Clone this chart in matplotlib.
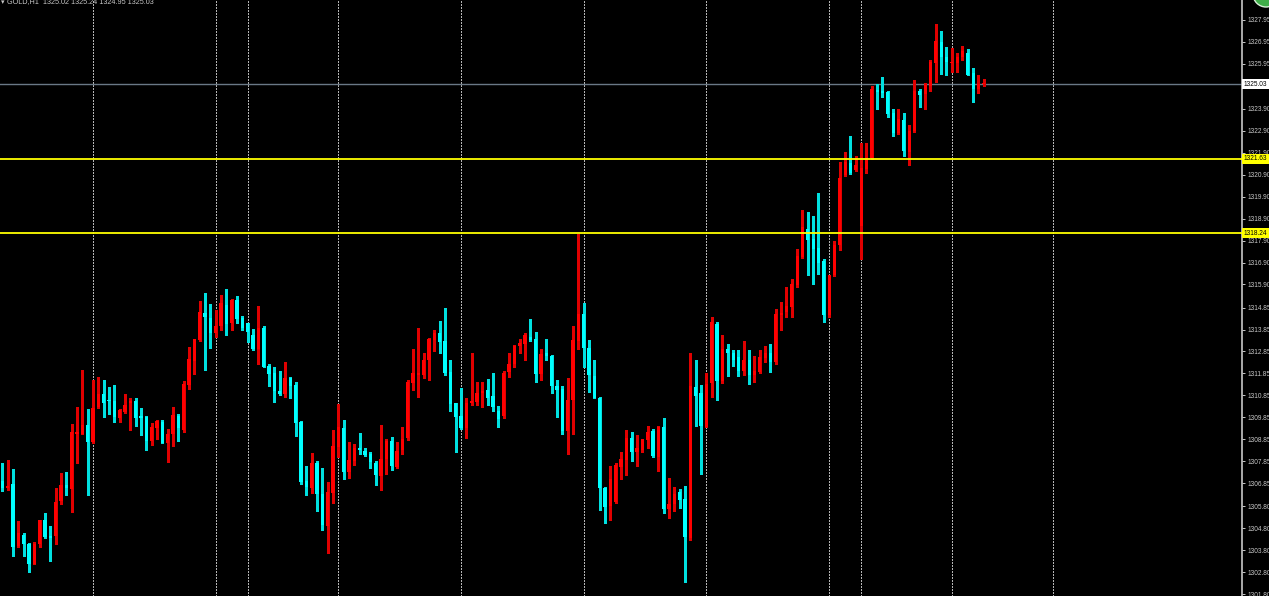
# recreate the MT4 style GOLD H1 candlestick screenshot

import matplotlib
matplotlib.use("Agg")
import matplotlib.pyplot as plt
import matplotlib.transforms as mtransforms
from matplotlib.patches import Ellipse
import numpy as np

WIDTH_PX = 1269
HEIGHT_PX = 596
DPI = 100
AXIS_RIGHT_PX = 1242

BULL_COLOUR = '#ff0000'
BEAR_COLOUR = '#00ffff'
BULL_WICK = '#e00000'
BEAR_WICK = '#00e0e0'
TEXT_COLOUR = '#c8c8c8'
GRID_COLOUR = '#b4b4b4'
LABEL_SIZE = 4.7

SYMBOL = "GOLD,H1"

# hourly bars, oldest first
opens = [1306.93, 1306.62, 1306.80, 1303.98, 1304.49, 1304.10, 1303.19, 1304.07, 1305.16, 1304.46,
         1304.43, 1306.04, 1306.77, 1306.59, 1309.11, 1309.11, 1309.51, 1308.72, 1310.33, 1310.91,
         1310.62, 1310.60, 1309.84, 1310.08, 1310.48, 1310.60, 1309.86, 1309.87, 1308.78, 1309.36,
         1309.63, 1308.69, 1309.11, 1309.90, 1309.29, 1311.33, 1312.42, 1313.37, 1314.61, 1314.37,
         1313.70, 1314.03, 1314.98, 1314.13, 1315.19, 1314.37, 1314.13, 1313.58, 1312.94, 1313.94,
         1312.18, 1311.85, 1311.03, 1310.91, 1311.66, 1311.30, 1309.63, 1306.96, 1306.65, 1307.75,
         1306.35, 1304.92, 1306.41, 1308.50, 1309.36, 1307.35, 1307.87, 1308.44, 1308.32, 1308.17,
         1307.78, 1307.17, 1307.93, 1308.78, 1307.59, 1308.38, 1308.90, 1311.42, 1311.79, 1311.76,
         1312.45, 1313.37, 1313.67, 1313.34, 1311.91, 1310.48, 1309.93, 1309.36, 1310.51, 1310.57,
         1310.97, 1311.09, 1310.81, 1310.15, 1309.93, 1311.91, 1312.30, 1313.12, 1313.21, 1313.52,
         1313.43, 1311.82, 1312.76, 1312.64, 1311.27, 1311.15, 1309.23, 1310.63, 1313.34, 1314.55,
         1313.03, 1311.73, 1310.75, 1306.65, 1305.80, 1305.98, 1307.59, 1307.90, 1308.90, 1308.29,
         1308.38, 1308.81, 1309.23, 1308.05, 1309.42, 1305.68, 1305.92, 1306.44, 1306.13, 1304.37,
         1311.21, 1310.94, 1309.42, 1311.42, 1314.09, 1311.51, 1312.97, 1312.76, 1312.61, 1311.97,
         1312.45, 1311.79, 1311.91, 1312.55, 1312.79, 1312.36, 1314.49, 1314.64, 1314.89, 1315.86,
         1317.13, 1318.41, 1317.95, 1317.56, 1316.95, 1314.52, 1316.31, 1317.68, 1320.87, 1321.45,
         1321.11, 1318.56, 1321.17, 1321.66, 1324.76, 1324.73, 1324.67, 1323.70, 1322.78, 1323.39,
         1321.93, 1322.88, 1324.73, 1324.58, 1324.94, 1326.00, 1326.95, 1326.28, 1325.97, 1326.00,
         1326.28, 1326.43, 1325.52, 1324.82, 1325.02]
highs = [1307.78, 1307.90, 1307.50, 1305.13, 1304.56, 1304.12, 1304.16, 1305.18, 1305.47, 1304.92,
         1306.65, 1307.32, 1307.38, 1309.54, 1310.33, 1312.00, 1310.21, 1311.54, 1311.69, 1311.54,
         1311.21, 1311.30, 1310.21, 1310.91, 1310.72, 1310.72, 1310.27, 1309.90, 1309.60, 1309.72,
         1309.72, 1309.33, 1310.30, 1310.02, 1311.51, 1313.06, 1313.43, 1315.16, 1315.52, 1315.01,
         1314.73, 1315.40, 1315.71, 1315.25, 1315.37, 1314.46, 1314.16, 1313.88, 1314.92, 1314.00,
         1312.30, 1312.12, 1311.94, 1312.36, 1311.69, 1311.45, 1309.66, 1307.65, 1308.23, 1307.84,
         1307.56, 1306.89, 1309.26, 1310.45, 1309.72, 1308.72, 1308.63, 1309.14, 1308.47, 1308.29,
         1307.84, 1309.51, 1308.87, 1308.96, 1308.72, 1309.42, 1311.54, 1312.97, 1313.94, 1312.79,
         1313.46, 1313.82, 1314.22, 1314.82, 1312.48, 1310.51, 1311.18, 1310.72, 1312.79, 1311.45,
         1311.45, 1311.60, 1311.88, 1310.36, 1311.94, 1312.76, 1313.15, 1313.43, 1313.67, 1314.31,
         1313.73, 1312.97, 1313.40, 1312.67, 1311.54, 1311.27, 1311.63, 1314.03, 1318.20, 1315.04,
         1313.37, 1312.48, 1310.78, 1306.68, 1307.62, 1307.78, 1308.26, 1309.29, 1309.20, 1309.05,
         1308.87, 1309.45, 1309.33, 1309.45, 1309.84, 1307.08, 1306.68, 1306.59, 1306.71, 1312.79,
         1312.45, 1311.33, 1311.88, 1314.43, 1314.19, 1313.61, 1313.18, 1312.91, 1312.91, 1313.34,
         1312.91, 1312.64, 1312.91, 1313.09, 1313.18, 1314.79, 1315.10, 1315.77, 1316.13, 1317.53,
         1319.29, 1319.20, 1319.02, 1320.05, 1317.07, 1316.34, 1317.86, 1321.48, 1321.93, 1322.66,
         1321.75, 1322.33, 1322.36, 1324.94, 1325.03, 1325.37, 1324.73, 1323.88, 1323.91, 1323.70,
         1323.18, 1325.21, 1324.82, 1325.09, 1326.13, 1327.77, 1327.46, 1326.70, 1326.67, 1326.46,
         1326.76, 1326.61, 1325.76, 1325.43, 1325.24]
lows = [1306.50, 1306.53, 1303.52, 1303.95, 1303.55, 1302.79, 1303.16, 1303.95, 1304.37, 1303.31,
        1304.07, 1305.89, 1306.29, 1305.53, 1307.78, 1309.08, 1306.32, 1308.70, 1310.27, 1309.87,
        1310.02, 1309.63, 1309.63, 1310.05, 1309.26, 1309.45, 1309.05, 1308.35, 1308.57, 1308.87,
        1308.66, 1307.81, 1308.54, 1308.75, 1309.17, 1311.12, 1311.82, 1313.34, 1312.00, 1313.03,
        1313.52, 1313.82, 1313.61, 1313.82, 1314.16, 1313.85, 1313.27, 1312.91, 1312.30, 1312.12,
        1311.27, 1310.57, 1310.88, 1310.78, 1310.75, 1309.02, 1306.80, 1306.29, 1306.38, 1305.56,
        1304.71, 1303.67, 1305.95, 1308.05, 1307.05, 1307.08, 1307.68, 1308.20, 1308.08, 1307.56,
        1306.77, 1306.53, 1307.29, 1307.47, 1307.56, 1308.20, 1308.81, 1311.09, 1310.78, 1311.66,
        1311.57, 1312.88, 1312.79, 1311.76, 1310.12, 1308.29, 1309.33, 1308.93, 1310.42, 1310.42,
        1310.30, 1310.42, 1310.15, 1309.42, 1309.81, 1311.69, 1312.15, 1312.76, 1312.45, 1313.34,
        1311.45, 1311.57, 1312.45, 1310.97, 1309.87, 1309.08, 1308.17, 1309.11, 1312.97, 1312.15,
        1311.00, 1310.72, 1305.62, 1305.04, 1305.16, 1305.95, 1307.02, 1307.20, 1307.87, 1307.62,
        1308.29, 1308.47, 1308.02, 1307.41, 1305.47, 1305.28, 1305.59, 1305.74, 1302.34, 1304.28,
        1309.45, 1307.29, 1309.39, 1310.78, 1310.63, 1311.42, 1311.73, 1312.21, 1311.73, 1311.79,
        1311.39, 1311.48, 1311.85, 1312.39, 1311.91, 1312.27, 1313.82, 1314.40, 1314.40, 1315.77,
        1317.10, 1316.34, 1315.92, 1316.37, 1314.19, 1314.43, 1316.28, 1317.47, 1320.84, 1320.93,
        1321.08, 1317.07, 1320.96, 1321.63, 1323.91, 1324.45, 1323.51, 1322.66, 1322.75, 1321.75,
        1321.36, 1322.85, 1323.97, 1323.88, 1324.70, 1325.12, 1325.49, 1325.46, 1325.58, 1325.58,
        1326.13, 1325.43, 1324.21, 1324.61, 1324.95]
closes = [1306.65, 1306.74, 1303.95, 1304.56, 1304.07, 1303.19, 1304.10, 1305.16, 1304.40, 1304.37,
          1306.01, 1306.77, 1306.62, 1309.20, 1309.17, 1309.51, 1308.72, 1310.27, 1310.91, 1310.51,
          1310.58, 1309.87, 1310.18, 1310.42, 1310.60, 1309.84, 1309.84, 1308.75, 1309.39, 1309.69,
          1308.69, 1309.08, 1309.96, 1309.36, 1311.36, 1312.52, 1313.40, 1314.64, 1314.43, 1313.70,
          1314.03, 1315.04, 1314.09, 1315.19, 1314.31, 1313.91, 1313.73, 1312.94, 1313.94, 1312.15,
          1311.82, 1311.03, 1310.91, 1311.63, 1311.27, 1309.57, 1306.89, 1306.68, 1307.75, 1306.35,
          1304.95, 1306.44, 1308.54, 1309.42, 1307.38, 1307.90, 1308.44, 1308.35, 1308.14, 1307.81,
          1307.20, 1307.96, 1308.78, 1307.62, 1308.32, 1308.84, 1311.48, 1311.85, 1311.88, 1312.48,
          1313.40, 1313.70, 1313.30, 1311.88, 1310.45, 1309.87, 1309.36, 1310.51, 1310.60, 1310.97,
          1311.06, 1310.75, 1310.33, 1309.78, 1311.85, 1312.27, 1313.12, 1313.24, 1313.58, 1313.37,
          1311.82, 1312.73, 1312.64, 1311.27, 1311.09, 1309.23, 1310.63, 1313.37, 1314.55, 1313.00,
          1311.76, 1310.75, 1306.62, 1305.77, 1307.02, 1307.68, 1307.96, 1308.90, 1308.26, 1308.44,
          1308.84, 1309.20, 1308.11, 1309.42, 1305.68, 1305.92, 1306.35, 1306.10, 1304.40, 1311.27,
          1310.84, 1309.45, 1311.39, 1314.19, 1311.51, 1312.97, 1312.76, 1312.45, 1311.97, 1312.48,
          1311.79, 1311.97, 1312.58, 1312.76, 1312.36, 1314.55, 1314.61, 1314.92, 1315.92, 1317.22,
          1318.50, 1317.92, 1317.53, 1316.89, 1314.52, 1316.31, 1317.71, 1320.75, 1321.48, 1320.96,
          1321.36, 1321.20, 1321.66, 1324.82, 1324.67, 1324.61, 1323.67, 1322.81, 1323.42, 1321.99,
          1322.91, 1324.70, 1324.55, 1325.00, 1326.03, 1326.98, 1326.28, 1326.03, 1326.03, 1326.25,
          1326.52, 1325.46, 1324.82, 1325.03, 1325.03]

# price levels drawn on the chart
bid_price = 1325.03
level_prices = [1321.63, 1318.24]

# bar indexes of the dotted vertical grid
grid_bars = [17, 40, 46, 63, 86, 109, 132, 155, 161, 178, 197]

# right hand price scale, as MT4 printed it
price_ticks = [1327.95, 1326.95, 1325.95, 1323.90, 1322.90, 1321.90, 1320.90, 1319.90,
               1318.90, 1317.90, 1316.90, 1315.90, 1314.85, 1313.85, 1312.85, 1311.85,
               1310.85, 1309.85, 1308.85, 1307.85, 1306.85, 1305.80, 1304.80, 1303.80,
               1302.80, 1301.80]
price_labels = ["%.2f" % p for p in price_ticks]

if __name__ == '__main__':
    plt.rcParams['font.family'] = ['Liberation Sans', 'DejaVu Sans']

    o = np.array(opens)
    h = np.array(highs)
    l = np.array(lows)
    c = np.array(closes)
    x = np.arange(len(o))
    bull = c >= o

    fig = plt.figure(figsize=(WIDTH_PX / DPI, HEIGHT_PX / DPI), dpi=DPI, facecolor='black')
    ax = fig.add_axes([0, 0, AXIS_RIGHT_PX / WIDTH_PX, 1])
    ax.set_facecolor('black')

    # bar spacing ~5.33 px, first bar 2 px in from the left edge
    ax.set_xlim(-0.43, 232.4)
    ax.set_ylim(1301.71, 1328.86)

    # grid
    for b in grid_bars:
        ax.axvline(b, color=GRID_COLOUR, linewidth=0.75, linestyle=(0, (1.4, 1.4)),
                   zorder=1, antialiased=False)

    # wicks
    ax.vlines(x[bull], l[bull], h[bull], color=BULL_WICK, linewidth=0.8, zorder=2,
              antialiased=False)
    ax.vlines(x[~bull], l[~bull], h[~bull], color=BEAR_WICK, linewidth=0.8, zorder=2,
              antialiased=False)

    # bodies - keep a minimum height so dojis still show
    body_low = np.minimum(o, c)
    body_h = np.maximum(np.abs(c - o), 0.06)
    ax.bar(x[bull], body_h[bull], bottom=body_low[bull], width=0.6, color=BULL_COLOUR,
           linewidth=0, zorder=3, antialiased=False)
    ax.bar(x[~bull], body_h[~bull], bottom=body_low[~bull], width=0.6, color=BEAR_COLOUR,
           linewidth=0, zorder=3, antialiased=False)

    # bid line and the two yellow levels
    ax.axhline(bid_price, color='#6a7886', linewidth=1.0, zorder=1.5)
    for p in level_prices:
        ax.axhline(p, color='#ffff00', linewidth=1.3, zorder=4)

    # price scale on the right
    for side in ('left', 'top', 'bottom'):
        ax.spines[side].set_visible(False)
    ax.spines['right'].set_color('#c8c8c8')
    ax.spines['right'].set_linewidth(1.2)
    ax.set_xticks([])
    ax.yaxis.tick_right()
    ax.set_yticks(price_ticks)
    ax.set_yticklabels(price_labels)
    ax.tick_params(axis='y', colors=TEXT_COLOUR, labelsize=LABEL_SIZE, length=2.5,
                   width=0.7, pad=1.2)

    # boxed labels for the bid and the levels
    trans = mtransforms.blended_transform_factory(ax.transAxes, ax.transData)
    ax.text(1.0015, bid_price, "%.2f" % bid_price, transform=trans, ha='left', va='center',
            fontsize=LABEL_SIZE, color='black', clip_on=False, zorder=6,
            bbox=dict(facecolor='white', edgecolor='none', pad=1.0))
    for p in level_prices:
        ax.text(1.0015, p, "%.2f" % p, transform=trans, ha='left', va='center',
                fontsize=LABEL_SIZE, color='black', clip_on=False, zorder=6,
                bbox=dict(facecolor='#ffff00', edgecolor='none', pad=1.0))
    ax.text(1.003, 1328.95, "1328.95", transform=trans, ha='left', va='center',
            fontsize=LABEL_SIZE, color=TEXT_COLOUR, clip_on=False)

    # header in the top left corner, partly cut off like the screenshot
    last = len(o) - 1
    header = "%s  %.2f %.2f %.2f %.2f" % (SYMBOL, o[last], h[last], l[last], c[last])
    fig.text(1 / WIDTH_PX, 1 - 2 / HEIGHT_PX, "\u25be", color=TEXT_COLOUR, fontsize=5,
             ha='left', va='center', family='DejaVu Sans')
    fig.text(7 / WIDTH_PX, 1 - 2 / HEIGHT_PX, header, color=TEXT_COLOUR, fontsize=5.2,
             ha='left', va='center')

    # green status circle peeking in at the top right
    fig.patches.append(Ellipse((1266 / WIDTH_PX, 1 + 6 / HEIGHT_PX), 26 / WIDTH_PX,
                               26 / HEIGHT_PX, transform=fig.transFigure,
                               facecolor='#3fae49', edgecolor='#d8f0d8', linewidth=1))

    plt.savefig("out.png", dpi=DPI, facecolor='black')
